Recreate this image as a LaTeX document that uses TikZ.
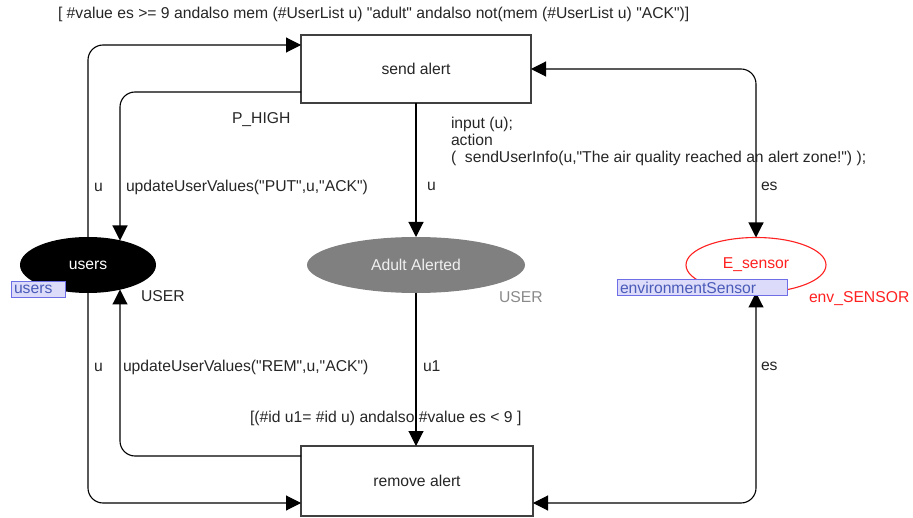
\documentclass[tikz,border=0pt]{standalone}
\usepackage{fontspec}
% a family of its own, so straight quotes stay straight
\newfontfamily\netfont{Liberation Sans}
\usetikzlibrary{arrows.meta,shapes.geometric}
\definecolor{tagfill}{HTML}{DCDCFA}
\definecolor{tagline}{HTML}{6E6EE6}
\definecolor{tagtext}{HTML}{4A5AB8}
\definecolor{placegray}{HTML}{808080}
\definecolor{labelgray}{HTML}{8A8A8A}
\definecolor{sensorred}{HTML}{FF2020}
\definecolor{inktext}{HTML}{262626}
\begin{document}
\begin{tikzpicture}[x=1pt,y=-1pt,
  font=\netfont\fontsize{15.7}{17.5}\selectfont,
  every node/.style={inner sep=0pt, outer sep=0pt},
  trans/.style={draw=black!75, line width=1.1pt, fill=white,
    minimum width=230pt, minimum height=68pt, text=inktext},
  place/.style={ellipse, minimum width=136pt, minimum height=56pt},
  tag/.style={draw=tagline, fill=tagfill, text=tagtext, line width=0.9pt,
    anchor=west, minimum height=16pt, inner xsep=3pt, align=left},
  arc/.style={draw=black, line width=1.1pt, rounded corners=15pt, -{Triangle[length=15pt,width=15pt]}},
  biarc/.style={draw=black, line width=1.1pt, rounded corners=15pt,
    {Triangle[length=15pt,width=15pt]}-{Triangle[length=15pt,width=15pt]}},
  lbl/.style={anchor=base west, text=inktext},
]
\useasboundingbox (0,0) rectangle (913,518);

% transitions
\node[trans] (sa) at (416,69) {send alert};
\node[trans, minimum width=232pt, minimum height=70pt] (ra) at (417,481) {remove alert};

% places
\node[place, fill=black, text=white] (users) at (88,265) {users};
\node[place, fill=placegray, text=white!94!black, minimum width=218pt] (aa) at (416,265) {Adult Alerted};
\node[place, draw=sensorred, fill=white, line width=1.1pt, text=sensorred,
  minimum width=140pt, minimum height=55pt] (es) at (756,265) {E\_sensor};

% arc end points on transition sides and place borders
\coordinate (saL1) at (301,45);
\coordinate (saL2) at (301,92);
\coordinate (uTopR) at (120,240.5);
\coordinate (uBotR) at (120,289.5);
\coordinate (raL1) at (301,456);
\coordinate (raL2) at (301,503);
\coordinate (raR) at (533,503);

% arcs
\draw[arc] (users.north) |- (saL1);
\draw[arc] (saL2) -| (uTopR);
\draw[arc] (sa.south) -- (aa.north);
\draw[biarc] (sa.east) -| (es.north);
\draw[arc] (aa.south) -- (aa.south |- ra.north);
\draw[arc] (raL1) -| (uBotR);
\draw[arc] (users.south) |- (raL2);
\draw[biarc] (es.south) |- (raR);

% fusion tags
\node[tag, text width=48pt] (usersTag) at (11,289) {users};
\node[tag, text width=164pt] (sensorTag) at (617,287.5) {environmentSensor};

% colour sets
\node[lbl] (usersCs) at (141,302) {USER};
\node[lbl, text=labelgray] (aaCs) at (499,303) {USER};
\node[lbl, text=sensorred] (esCs) at (809,303) {env\_SENSOR};

% guards, priority and code segment
\node[lbl] (guardSa) at (58,19) {[ \#value es >= 9 andalso mem (\#UserList u) "adult" andalso not(mem (\#UserList u) "ACK")]};
\node[lbl] (prio) at (232,124) {P\_HIGH};
\node[lbl] (code1) at (451,129) {input (u);};
\node[lbl] (code2) at (451,146) {action};
\node[lbl] (code3) at (451,163) {(\ \ sendUserInfo(u,"The air quality reached an alert zone!") );};
\node[lbl] (guardRa) at (250,422) {[(\#id u1= \#id u) andalso \#value es < 9 ]};

% arc inscriptions
\node[lbl] (inA1) at (94,192) {u};
\node[lbl] (inA2) at (126,192) {updateUserValues("PUT",u,"ACK")};
\node[lbl] (inA3) at (427,191) {u};
\node[lbl] (inA4) at (761,191) {es};
\node[lbl] (inA7) at (94,372) {u};
\node[lbl] (inA6) at (123,372) {updateUserValues("REM",u,"ACK")};
\node[lbl] (inA5) at (423,372) {u1};
\node[lbl] (inA8) at (761,371) {es};
\end{tikzpicture}
\end{document}
